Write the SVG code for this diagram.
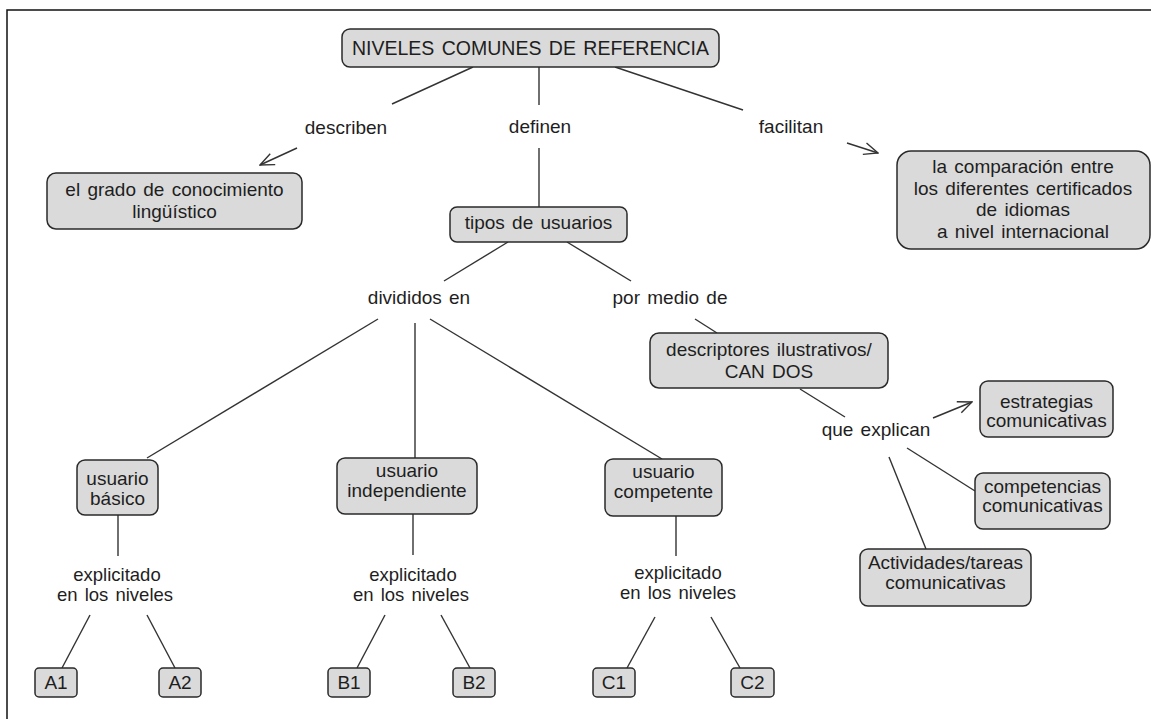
<svg xmlns="http://www.w3.org/2000/svg" width="1151" height="719" viewBox="0 0 1151 719">
<defs>
<style>
.box{fill:#dadada;stroke:#2a2a2a;stroke-width:1.5}
.t{font-family:"Liberation Sans",Arial,sans-serif;font-size:19px;fill:#1e1e1e;text-anchor:middle;word-spacing:2px}
.ttl{font-size:19.5px;word-spacing:2px}
.ex{font-size:18.5px}
.c line{stroke:#333;stroke-width:1.4}
</style>
<marker id="arr" markerUnits="userSpaceOnUse" viewBox="0 0 16 14" refX="15" refY="7" markerWidth="16" markerHeight="14" orient="auto">
<path d="M1,1 L15,7 L1,13" fill="none" stroke="#333" stroke-width="1.4"/>
</marker>
</defs>
<rect width="1151" height="719" fill="#fff"/>
<path d="M7,719 V10 H1151" fill="none" stroke="#111" stroke-width="1.5"/>

<g class="c" id="connectors">
<line x1="473" y1="67" x2="392" y2="104"/>
<line x1="297" y1="148" x2="260" y2="165" marker-end="url(#arr)"/>
<line x1="539" y1="67" x2="539" y2="105"/>
<line x1="539" y1="148" x2="539" y2="207"/>
<line x1="615" y1="67" x2="743" y2="110"/>
<line x1="847" y1="143" x2="878" y2="153" marker-end="url(#arr)"/>
<line x1="508" y1="242" x2="444" y2="281"/>
<line x1="567" y1="242" x2="631" y2="281"/>
<line x1="695" y1="319" x2="717" y2="333"/>
<line x1="800" y1="389" x2="845" y2="417"/>
<line x1="933" y1="418" x2="972" y2="402" marker-end="url(#arr)"/>
<line x1="907" y1="448" x2="975" y2="491"/>
<line x1="889" y1="457" x2="926" y2="549"/>
<line x1="378" y1="319" x2="147" y2="458"/>
<line x1="415" y1="323" x2="415" y2="458"/>
<line x1="430" y1="319" x2="662" y2="459"/>
<line x1="118" y1="515" x2="118" y2="556"/>
<line x1="413" y1="514" x2="413" y2="555"/>
<line x1="676" y1="516" x2="676" y2="556"/>
<line x1="90" y1="615" x2="62" y2="668"/>
<line x1="147" y1="615" x2="175" y2="668"/>
<line x1="385" y1="615" x2="357" y2="668"/>
<line x1="441" y1="615" x2="470" y2="668"/>
<line x1="655" y1="617" x2="627" y2="668"/>
<line x1="711" y1="617" x2="740" y2="668"/>
</g>

<g id="lbl-describen"><text class="t" x="346" y="134">describen</text></g>
<g id="lbl-definen"><text class="t" x="540" y="133">definen</text></g>
<g id="lbl-facilitan"><text class="t" x="791" y="133">facilitan</text></g>
<g id="lbl-divididos"><text class="t" x="419" y="304">divididos  en</text></g>
<g id="lbl-pormedio"><text class="t" x="670" y="304">por medio de</text></g>
<g id="lbl-queexplican"><text class="t" x="876" y="436">que explican</text></g>
<g id="lbl-expl-a"><text class="t ex" x="117" y="581">explicitado</text><text class="t ex" x="115" y="601">en los niveles</text></g>
<g id="lbl-expl-b"><text class="t ex" x="413" y="581">explicitado</text><text class="t ex" x="411" y="601">en los niveles</text></g>
<g id="lbl-expl-c"><text class="t ex" x="678" y="579">explicitado</text><text class="t ex" x="678" y="599">en los niveles</text></g>

<g id="n-titulo"><rect class="box" x="342" y="29" width="377" height="38" rx="8"/><text class="t ttl" x="530.5" y="55">NIVELES COMUNES DE REFERENCIA</text></g>
<g id="n-grado"><rect class="box" x="47" y="173" width="255" height="56" rx="9"/><text class="t" x="174.5" y="196">el grado de conocimiento</text><text class="t" x="174.5" y="218">lingüístico</text></g>
<g id="n-tipos"><rect class="box" x="450" y="207" width="177" height="35" rx="7"/><text class="t" x="538.5" y="229">tipos de usuarios</text></g>
<g id="n-comparacion"><rect class="box" x="897" y="151" width="253" height="98" rx="14"/><text class="t" x="1023" y="173">la comparación  entre</text><text class="t" x="1023" y="195">los diferentes  certificados</text><text class="t" x="1023" y="216">de idiomas</text><text class="t" x="1023" y="238">a nivel  internacional</text></g>
<g id="n-descriptores"><rect class="box" x="650" y="333" width="238" height="55" rx="9"/><text class="t" x="769" y="356">descriptores  ilustrativos/</text><text class="t" x="769" y="378">CAN DOS</text></g>
<g id="n-estrategias"><rect class="box" x="980" y="381" width="133" height="56" rx="8"/><text class="t" x="1046.5" y="408">estrategias</text><text class="t" x="1046.5" y="427">comunicativas</text></g>
<g id="n-competencias"><rect class="box" x="975" y="473" width="135" height="56" rx="8"/><text class="t" x="1042.5" y="493">competencias</text><text class="t" x="1042.5" y="512">comunicativas</text></g>
<g id="n-actividades"><rect class="box" x="860" y="549" width="171" height="57" rx="8"/><text class="t" x="945.5" y="569">Actividades/tareas</text><text class="t" x="945.5" y="589">comunicativas</text></g>
<g id="n-basico"><rect class="box" x="77" y="460" width="81" height="55" rx="8"/><text class="t" x="117.5" y="485">usuario</text><text class="t" x="117.5" y="505">básico</text></g>
<g id="n-independiente"><rect class="box" x="337" y="458" width="140" height="56" rx="8"/><text class="t" x="407" y="477">usuario</text><text class="t" x="407" y="497">independiente</text></g>
<g id="n-competente"><rect class="box" x="605" y="459" width="117" height="57" rx="8"/><text class="t" x="663.5" y="478">usuario</text><text class="t" x="663.5" y="498">competente</text></g>
<g id="n-a1"><rect class="box" x="35" y="668" width="42" height="29" rx="4"/><text class="t" x="56" y="689">A1</text></g>
<g id="n-a2"><rect class="box" x="159" y="668" width="42" height="29" rx="4"/><text class="t" x="180" y="689">A2</text></g>
<g id="n-b1"><rect class="box" x="328" y="668" width="42" height="29" rx="4"/><text class="t" x="349" y="689">B1</text></g>
<g id="n-b2"><rect class="box" x="453" y="668" width="42" height="29" rx="4"/><text class="t" x="474" y="689">B2</text></g>
<g id="n-c1"><rect class="box" x="593" y="668" width="42" height="29" rx="4"/><text class="t" x="614" y="689">C1</text></g>
<g id="n-c2"><rect class="box" x="731" y="668" width="43" height="29" rx="4"/><text class="t" x="752.5" y="689">C2</text></g>
</svg>
